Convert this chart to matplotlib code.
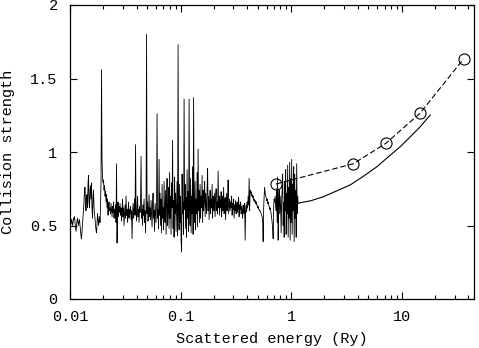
import numpy as np
import matplotlib
matplotlib.use("Agg")
import matplotlib.pyplot as plt
from matplotlib.ticker import FixedLocator, LogLocator, NullFormatter

# ---- data -------------------------------------------------------------
# resonance region (R-matrix like), sampled on a uniform log energy mesh
noisy_e_start = 0.01
noisy_e_end = 1.157
noisy_values = [
    0.52,0.53,0.51,0.54,0.53,0.50,0.52,0.55,0.54,0.56,0.52,0.49,0.46,0.50,0.53,0.55,0.52,0.50,0.53,0.54,
    0.50,0.47,0.43,0.41,0.46,0.52,0.56,0.60,0.66,0.74,0.76,0.64,0.60,0.68,0.71,0.62,0.78,0.84,0.66,0.62,
    0.74,0.77,0.68,0.79,0.62,0.55,0.68,0.74,0.63,0.58,0.55,0.50,0.47,0.45,0.52,0.58,0.55,0.50,0.53,0.56,
    0.52,0.62,0.80,1.56,0.96,0.82,0.79,0.81,0.74,0.77,0.70,0.73,0.66,0.71,0.62,0.68,0.57,0.63,0.66,0.60,
    0.62,0.58,0.65,0.60,0.56,0.63,0.59,0.66,0.55,0.61,0.58,0.64,0.52,0.92,0.38,0.60,0.66,0.56,0.63,0.59,
    0.65,0.57,0.62,0.53,0.60,0.68,0.56,0.62,0.50,0.58,0.64,0.55,0.70,0.57,0.61,0.52,0.59,0.66,0.55,0.61,
    0.58,0.63,0.54,0.60,0.41,0.58,0.65,0.55,0.60,0.68,0.57,1.05,0.60,0.53,0.62,0.70,0.56,0.61,0.52,0.63,
    0.59,0.66,0.97,0.55,0.61,0.50,0.64,0.57,0.68,0.52,0.60,0.45,0.62,1.80,0.58,0.66,0.53,0.60,0.71,0.56,
    0.62,0.54,0.67,0.58,0.49,0.63,0.72,0.55,0.60,0.46,0.65,0.58,0.52,0.69,1.26,0.55,0.61,0.48,0.95,0.57,
    0.72,0.50,0.68,0.45,0.78,0.55,0.62,0.47,0.80,0.58,0.52,0.74,0.44,0.66,0.82,0.50,0.60,0.76,0.48,0.86,
    0.55,0.70,0.44,0.79,0.62,1.08,0.48,0.67,0.42,0.83,0.58,0.72,0.46,0.64,0.80,0.43,1.73,0.60,0.47,0.78,
    0.52,0.70,0.40,0.32,0.85,0.58,0.66,0.44,1.36,0.61,0.78,0.48,0.69,0.42,0.88,0.55,0.73,0.46,1.36,0.63,
    0.50,0.82,0.45,0.70,0.58,0.90,0.44,1.37,0.62,0.52,0.80,0.47,0.68,0.58,0.86,0.49,1.02,0.60,0.74,0.52,
    0.78,0.55,0.70,0.62,0.84,0.52,0.74,0.60,0.68,0.80,0.56,0.72,0.64,0.58,0.76,0.89,0.60,0.70,0.54,0.66,
    0.74,0.58,0.68,0.62,0.78,0.55,0.70,0.64,0.60,0.72,0.56,0.68,0.75,0.60,0.66,0.58,0.87,0.62,0.70,0.57,
    0.68,0.62,0.73,0.56,0.66,0.70,0.60,0.76,0.58,0.65,0.69,0.54,0.64,0.72,0.60,0.67,0.81,0.58,0.63,0.68,
    0.60,0.66,0.62,0.70,0.57,0.65,0.61,0.68,0.55,0.64,0.60,0.67,0.58,0.63,0.66,0.59,0.62,0.69,0.56,0.64,
    0.61,0.66,0.58,0.63,0.60,0.55,0.64,0.62,0.58,0.65,0.40,0.60,0.64,0.59,0.66,0.62,0.70,0.64,0.82,0.60,
    0.74,0.72,0.73,0.70,0.71,0.69,0.70,0.67,0.68,0.66,0.67,0.65,0.66,0.64,0.64,0.62,0.63,0.61,0.61,0.60,
    0.60,0.59,0.58,0.57,0.56,0.53,0.39,0.62,0.70,0.76,0.72,0.70,0.69,0.67,0.68,0.65,0.66,0.64,0.63,0.61,
    0.62,0.60,0.58,0.55,0.52,0.48,0.41,0.63,0.68,0.66,0.70,0.64,0.60,0.75,0.52,0.83,0.40,0.66,0.74,0.58,
    0.70,0.62,0.45,0.68,0.74,0.85,0.50,0.66,0.42,0.80,0.60,0.88,0.44,0.72,0.58,0.91,0.42,0.76,0.55,0.93,
    0.40,0.82,0.52,0.95,0.44,0.78,0.60,0.90,0.39,0.85,0.55,0.74,0.42,0.92,0.58,0.70,0.65,
]

# smooth (high-energy) solid curve
smooth_energy = [1.157, 1.21, 1.5, 1.96, 2.5, 3.42, 4.5, 5.97, 7.5, 9.69, 12.0, 14.7, 18.1]
smooth_values = [0.650, 0.655, 0.668, 0.696, 0.731, 0.776, 0.835, 0.900, 0.965, 1.036, 1.105, 1.172, 1.252]

# dashed comparison with circles
circle_energy = [0.727, 3.64, 7.19, 14.6, 36.2]
circle_values = [0.782, 0.920, 1.059, 1.263, 1.633]

x_ticks = [0.01, 0.1, 1, 10]
x_tick_labels = ["0.01", "0.1", "1", "10"]
y_ticks = [0, 0.5, 1, 1.5, 2]
y_tick_labels = ["0", "0.5", "1", "1.5", "2"]

# ---- plot -------------------------------------------------------------
plt.rcParams['font.family'] = ['Liberation Mono', 'DejaVu Sans Mono']
plt.rcParams['font.size'] = 11

fig = plt.figure(figsize=(4.79, 3.48), dpi=100)
ax = fig.add_axes([70/479, 49/348, 404/479, 294/348])

noisy_energy = np.geomspace(noisy_e_start, noisy_e_end, len(noisy_values))
ax.plot(noisy_energy, noisy_values, color='black', lw=0.6)
ax.plot(smooth_energy, smooth_values, color='black', lw=0.8)
ax.plot(circle_energy, circle_values, color='black', lw=0.8, dashes=(5, 2.5),
        marker='o', markersize=8, markerfacecolor='none', markeredgewidth=0.8)

ax.set_xscale('log')
ax.set_xlim(0.01, 45)
ax.set_ylim(0, 2)
ax.xaxis.set_major_locator(FixedLocator(x_ticks))
ax.set_xticklabels(x_tick_labels)
ax.xaxis.set_minor_locator(LogLocator(base=10, subs=np.arange(2, 10)))
ax.xaxis.set_minor_formatter(NullFormatter())
ax.set_yticks(y_ticks)
ax.set_yticklabels(y_tick_labels)

ax.tick_params(which='both', direction='in', top=True, right=True, width=0.8)
ax.tick_params(which='major', length=5)
ax.tick_params(which='minor', length=3)
ax.tick_params(axis='y', pad=9)
ax.tick_params(axis='x', pad=8)
for s in ax.spines.values():
    s.set_linewidth(0.9)

ax.set_xlabel('Scattered energy (Ry)', labelpad=6)
ax.set_ylabel('Collision strength')
ax.yaxis.set_label_coords(-55/404, 0.5)

fig.savefig('out.png', dpi=100)
